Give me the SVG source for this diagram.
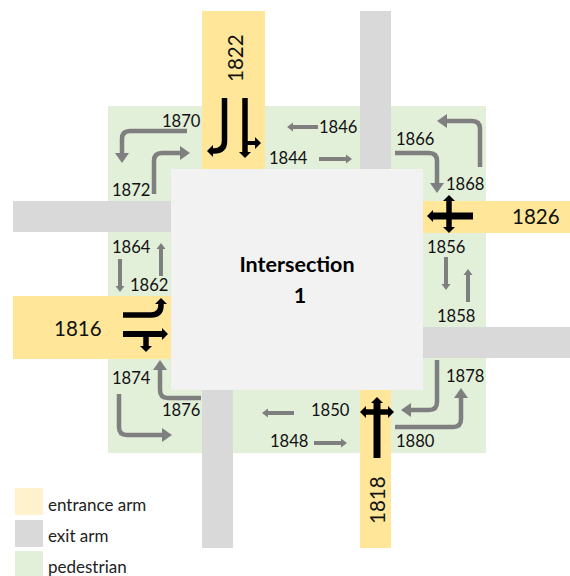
<svg xmlns="http://www.w3.org/2000/svg" width="570" height="576" viewBox="0 0 570 576">
<style>
text{font-family:Lato,"Liberation Sans",sans-serif;font-size:16.6px;fill:#111}
.big{font-size:20.5px}
.bold{font-weight:700;font-size:21.5px;text-anchor:middle;fill:#000}
.leg{font-size:17px;fill:#222}
.ent{fill:#ffe699}.exit{fill:#d9d9d9}
path{fill:none}
.t{stroke:#7f7f7f;stroke-width:4;marker-end:url(#gs)}
.g{stroke:#7f7f7f;stroke-width:4.5;marker-end:url(#gl)}
.b{stroke:#000;stroke-width:5.5;marker-end:url(#bk)}
.bw{stroke:#000;stroke-width:7;marker-end:url(#bk)}
</style>
<defs>
<marker id="gs" markerUnits="userSpaceOnUse" markerWidth="6" markerHeight="12" viewBox="0 0 6 12" refX="0" refY="6" orient="auto"><path d="M0 1.500L6 6L0 10.500Z" style="fill:#7f7f7f"/></marker>
<marker id="gl" markerUnits="userSpaceOnUse" markerWidth="11" markerHeight="16" viewBox="0 0 11 16" refX="0" refY="8" orient="auto"><path d="M0 1L10 8L0 15Z" style="fill:#7f7f7f"/></marker>
<marker id="bk" markerUnits="userSpaceOnUse" markerWidth="7" markerHeight="14" viewBox="0 0 7 14" refX="0" refY="7" orient="auto"><path d="M0 1L6 7L0 13Z" style="fill:#000"/></marker>
</defs>
<g id="pedestrian"><rect x="108" y="106" width="378" height="347" fill="#e2efd9"/></g>
<g id="exit-arms">
<rect class="exit" x="360" y="11" width="31" height="158"/>
<rect class="exit" x="423" y="327" width="147" height="31"/>
<rect class="exit" x="202" y="390" width="31" height="158"/>
<rect class="exit" x="13" y="201" width="158" height="31"/>
</g>
<g id="arm-1822"><rect class="ent" x="202" y="11" width="63" height="158"/><text class="big" transform="translate(243 82) rotate(-90)">1822</text></g>
<g id="arm-1826"><rect class="ent" x="423" y="201" width="147" height="32"/><text class="big" x="512" y="224">1826</text></g>
<g id="arm-1816"><rect class="ent" x="13" y="296" width="158" height="63"/><text class="big" x="54" y="336">1816</text></g>
<g id="arm-1818"><rect class="ent" x="360" y="390" width="31" height="158"/><text class="big" transform="translate(385 524) rotate(-90)">1818</text></g>
<g id="intersection"><rect x="171" y="169" width="252" height="221" fill="#f2f2f2"/><text class="bold" x="297" y="272">Intersection</text><text class="bold" x="300" y="303">1</text></g>
<g id="connectors">
<path class="b" d="M224.500 98V141Q224.500 151 214 151H213"/>
<path class="b" d="M245 98V152"/>
<path class="b" style="stroke-width:4" d="M245 143H255"/>
<path class="b" d="M123 315H151Q161 315 161 305V304"/>
<path class="b" d="M123 334H162" style="stroke-width:6"/>
<path class="b" d="M146 334V346"/>
<path class="bw" d="M473 216H433"/>
<path class="b" d="M449 216V201"/>
<path class="b" d="M449 216V227"/>
<path class="b" style="stroke-width:7" d="M377 458V403"/>
<path class="b" d="M377 412H366"/>
<path class="b" d="M377 412H388"/>
<path class="g" d="M187 131H130Q122 131 122 139V153"/>
<path class="g" d="M154 194V161Q154 153 162 153H180"/>
<path class="g" d="M395 153H429Q437 153 437 161V183"/>
<path class="g" d="M480 167V129Q480 121 472 121H447"/>
<path class="g" d="M201 398H168Q160 398 160 390V370"/>
<path class="g" d="M119 394V427Q119 435 127 435H162"/>
<path class="g" d="M395 427H453Q461 427 461 419V398"/>
<path class="g" d="M437 360V402Q437 410 429 410H411"/>
<path class="t" d="M318 127H293"/>
<path class="t" d="M319 159H346"/>
<path class="t" d="M446 257V284"/>
<path class="t" d="M468 302V275"/>
<path class="t" d="M120 259V286"/>
<path class="t" d="M161 276V249"/>
<path class="t" d="M294 413H268"/>
<path class="t" d="M314 443H341"/>
</g>
<g id="label-1870"><text x="162" y="127">1870</text></g>
<g id="label-1872"><text x="112" y="196">1872</text></g>
<g id="label-1844"><text x="269" y="164">1844</text></g>
<g id="label-1846"><text x="319" y="133">1846</text></g>
<g id="label-1866"><text x="396" y="145">1866</text></g>
<g id="label-1868"><text x="446" y="190">1868</text></g>
<g id="label-1856"><text x="427" y="253">1856</text></g>
<g id="label-1858"><text x="437" y="322">1858</text></g>
<g id="label-1864"><text x="112" y="253">1864</text></g>
<g id="label-1862"><text x="130" y="291">1862</text></g>
<g id="label-1874"><text x="112" y="384">1874</text></g>
<g id="label-1876"><text x="162" y="416">1876</text></g>
<g id="label-1850"><text x="311" y="416">1850</text></g>
<g id="label-1848"><text x="270" y="447">1848</text></g>
<g id="label-1880"><text x="396" y="447">1880</text></g>
<g id="label-1878"><text x="446" y="382">1878</text></g>
<g id="legend">
<rect x="15" y="488" width="28" height="27" fill="#fff2cc"/><text class="leg" x="48" y="511">entrance arm</text>
<rect x="15" y="520" width="28" height="27" fill="#d9d9d9"/><text class="leg" x="48" y="542">exit arm</text>
<rect x="15" y="551" width="28" height="25" fill="#e2efd9"/><text class="leg" x="48" y="573">pedestrian</text>
</g>
</svg>
